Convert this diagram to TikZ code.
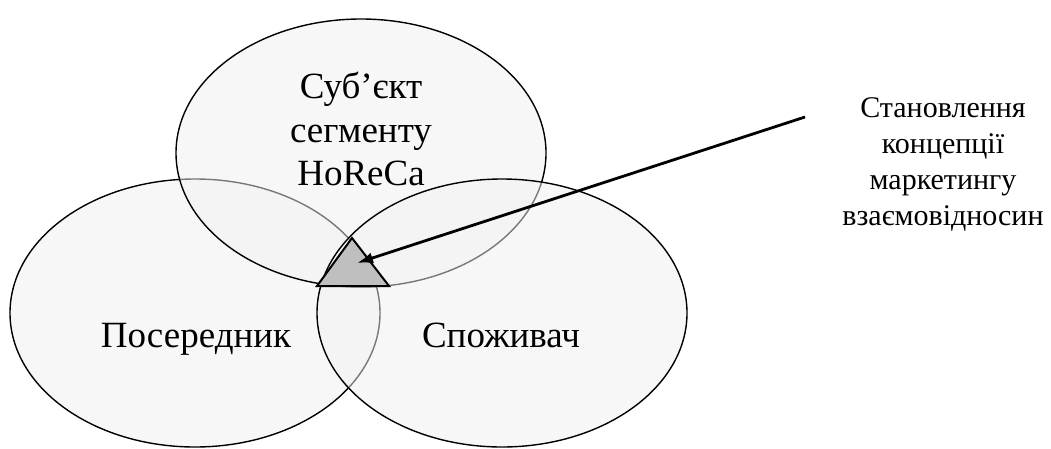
\documentclass[tikz,border=0pt]{standalone}
\usepackage{fontspec}
\setmainfont{Liberation Serif}
\usetikzlibrary{shapes.geometric,arrows.meta}
\begin{document}
\begin{tikzpicture}[x=1pt,y=-1pt,
  circ/.style={draw=black,line width=1.4pt,fill=black!6,fill opacity=0.5,
    ellipse,minimum width=370pt,minimum height=268pt,inner sep=0pt},
  biglabel/.style={font=\fontsize{37}{43.5}\selectfont,align=center,inner sep=0pt},
  smalllabel/.style={font=\fontsize{30}{36}\selectfont,align=center,inner sep=0pt},
  tri/.style={draw=black,line width=2pt,fill=black!25,line join=miter},
  arrowline/.style={draw=black,line width=2.8pt,-{Latex[length=16pt,width=11pt]}}]
\useasboundingbox (0,0) rectangle (1051,448);
\node[circ] (left) at (195,313) {};
\node[circ] (top) at (361,153) {};
\node[circ] (right) at (502,313) {};
\node[biglabel] (topl) at (361,129) {Суб’єкт\\сегменту\\HoReCa};
\node[biglabel,anchor=base] (leftl) at (196,347) {Посередник};
\node[biglabel,anchor=base] (rightl) at (501,347) {Споживач};
\coordinate (ta) at (352,238);
\coordinate (tb) at (317,286);
\coordinate (tc) at (389,286);
\draw[tri] (ta) -- (tb) -- (tc) -- cycle;
\node[smalllabel] (note) at (943,164) {Становлення\\концепції\\маркетингу\\взаємовідносин};
\coordinate (src) at (805,117);
\coordinate (tip) at (357,263);
\draw[arrowline] (src) -- (tip);
\end{tikzpicture}
\end{document}
